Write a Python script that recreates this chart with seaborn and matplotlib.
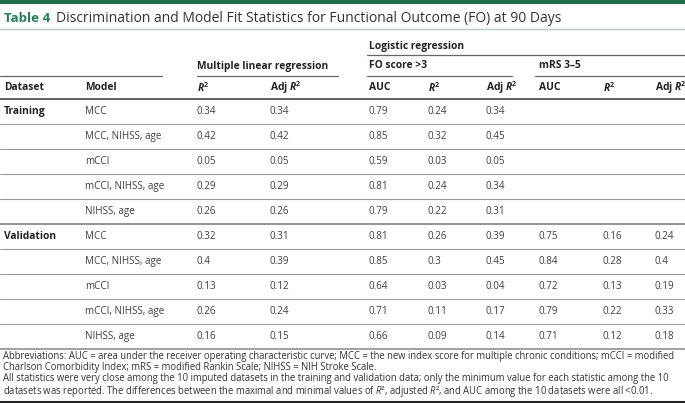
import seaborn as sns
import matplotlib.pyplot as plt

# table content
datasets = ['Training', '', '', '', '', 'Validation', '', '', '', '']
models = ['MCC', 'MCC, NIHSS, age', 'mCCI', 'mCCI, NIHSS, age', 'NIHSS, age'] * 2
mlr_r2 = [0.34, 0.42, 0.05, 0.29, 0.26, 0.32, 0.4, 0.13, 0.26, 0.16]
mlr_adj = [0.34, 0.42, 0.05, 0.29, 0.26, 0.31, 0.39, 0.12, 0.24, 0.15]
fo_auc = [0.79, 0.85, 0.59, 0.81, 0.79, 0.81, 0.85, 0.64, 0.71, 0.66]
fo_r2 = [0.24, 0.32, 0.03, 0.24, 0.22, 0.26, 0.3, 0.03, 0.11, 0.09]
fo_adj = [0.34, 0.45, 0.05, 0.34, 0.31, 0.39, 0.45, 0.04, 0.17, 0.14]
mrs_auc = [None] * 5 + [0.75, 0.84, 0.72, 0.79, 0.71]
mrs_r2 = [None] * 5 + [0.16, 0.28, 0.13, 0.22, 0.12]
mrs_adj = [None] * 5 + [0.24, 0.4, 0.19, 0.33, 0.18]

col_headers = ['Dataset', 'Model', '$\\mathbfit{R}^\\mathbf{2}$', 'Adj $\\mathbfit{R}^\\mathbf{2}$',
               'AUC', '$\\mathbfit{R}^\\mathbf{2}$', 'Adj $\\mathbfit{R}^\\mathbf{2}$',
               'AUC', '$\\mathbfit{R}^\\mathbf{2}$', 'Adj $\\mathbfit{R}^\\mathbf{2}$']
title_rest = 'Discrimination and Model Fit Statistics for Functional Outcome (FO) at 90 Days'
footnotes = [
    'Abbreviations: AUC = area under the receiver operating characteristic curve; MCC = the new index score for multiple chronic conditions; mCCI = modified',
    'Charlson Comorbidity Index; mRS = modified Rankin Scale; NIHSS = NIH Stroke Scale.',
    'All statistics were very close among the 10 imputed datasets in the training and validation data; only the minimum value for each statistic among the 10',
    'datasets was reported. The differences between the maximal and minimal values of $\\mathit{R}$\u00b2, adjusted $\\mathit{R}$\u00b2, and AUC among the 10 datasets were all <0.01.',
]

sns.set_theme(style="white")
plt.rcParams['font.family'] = ['Open Sans', 'DejaVu Sans']
plt.rcParams['mathtext.fontset'] = 'custom'
plt.rcParams['mathtext.rm'] = 'Open Sans'
plt.rcParams['mathtext.it'] = 'Open Sans:italic'
plt.rcParams['mathtext.bf'] = 'Open Sans:bold'
plt.rcParams['mathtext.bfit'] = 'Open Sans:italic:bold'

fig = plt.figure(figsize=(6.85, 4.03), dpi=100)
ax = fig.add_axes([0, 0, 1, 1])
ax.set_xlim(0, 685)
ax.set_ylim(403, 0)
ax.axis('off')

green = '#1f6f50'
text_c = '#404040'
head_c = '#222222'
line_c = '#9a9a9a'

# top bar and title
ax.axhline(1.5, color=green, lw=3)
ax.text(4, 18, 'Table 4', color='#23805a', fontsize=9.6, fontweight='bold', va='center')
ax.text(56, 18, title_rest, color='#333333', fontsize=10, va='center')
ax.axhline(29, color='#b9cbc1', lw=1)

# group headers
col_x = [4, 85, 197, 270, 369, 428, 486, 539, 603, 655]
ax.text(369, 46, 'Logistic regression', fontsize=7.4, fontweight='bold', color=head_c, va='center')
ax.plot([367, 685], [55, 55], color='#666666', lw=0.9)
ax.text(197, 66, 'Multiple linear regression', fontsize=7.4, fontweight='bold', color=head_c, va='center')
ax.text(369, 66, 'FO score >3', fontsize=7.4, fontweight='bold', color=head_c, va='center')
ax.text(539, 66, 'mRS 3\u20135', fontsize=7.4, fontweight='bold', color=head_c, va='center')
for x0, x1 in [(0, 162), (197, 338), (367, 512), (535, 685)]:
    ax.plot([x0, x1], [76, 76], color='#666666', lw=0.9)

for x, h in zip(col_x, col_headers):
    ax.text(x, 88, h, fontsize=7.4, fontweight='bold', color=head_c, va='center')
ax.axhline(99, color='#555555', lw=1.3)

# body rows
row_h = 25.0
for i in range(len(models)):
    y = 99 + row_h * (i + 0.5)
    ax.text(col_x[0], y, datasets[i], fontsize=7.4, fontweight='bold', color=head_c, va='center')
    ax.text(col_x[1], y, models[i], fontsize=7.1, color=text_c, va='center')
    vals = [mlr_r2[i], mlr_adj[i], fo_auc[i], fo_r2[i], fo_adj[i], mrs_auc[i], mrs_r2[i], mrs_adj[i]]
    for x, v in zip(col_x[2:], vals):
        if v is not None:
            ax.text(x, y, f'{v:g}', fontsize=7.1, color=text_c, va='center')
    yl = 99 + row_h * (i + 1)
    if i == 4:
        ax.axhline(yl, color='#777777', lw=1.1)
    elif i == len(models) - 1:
        ax.axhline(yl, color='#888888', lw=1.1)
    else:
        ax.axhline(yl, color=line_c, lw=0.8)

# footnotes as one block
ax.text(3, 351.5, '\n'.join(footnotes), fontsize=6.85, color='#333333', va='top', linespacing=0.98)
ax.axhline(401.5, color='#222222', lw=1.5)

plt.savefig('out.png', dpi=100)
plt.close()
